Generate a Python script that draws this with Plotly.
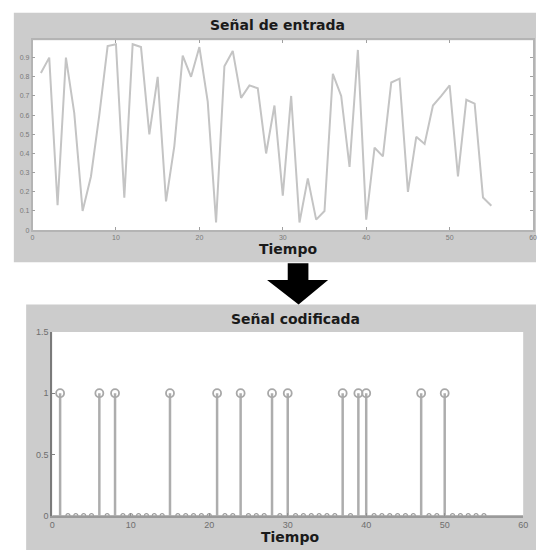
import plotly.graph_objects as go

# ---------------- data ----------------
tiempo = list(range(1, 56))
senal_entrada = [0.82, 0.90, 0.13, 0.90, 0.61, 0.10, 0.28, 0.60, 0.96, 0.97,
                 0.17, 0.97, 0.955, 0.50, 0.80, 0.15, 0.44, 0.91, 0.80, 0.955,
                 0.67, 0.04, 0.855, 0.935, 0.69, 0.755, 0.74, 0.40, 0.65, 0.18,
                 0.70, 0.04, 0.27, 0.055, 0.10, 0.815, 0.70, 0.33, 0.94, 0.055,
                 0.43, 0.385, 0.77, 0.79, 0.20, 0.487, 0.45, 0.65, 0.70, 0.755,
                 0.28, 0.68, 0.66, 0.17, 0.127]
unos = [1, 6, 8, 15, 21, 24, 28, 30, 37, 39, 40, 47, 50]
senal_codificada = [1 if t in unos else 0 for t in tiempo]

titulo_1 = "Señal de entrada"
titulo_2 = "Señal codificada"
eje_x = "Tiempo"
x_ticks = [0, 10, 20, 30, 40, 50, 60]
y_ticks_1 = [0, 0.1, 0.2, 0.3, 0.4, 0.5, 0.6, 0.7, 0.8, 0.9]
y_ticks_2 = [0, 0.5, 1, 1.5]

# ---------------- layout helpers ----------------
W, H = 541, 555
def px(x):
    return x / W
def py(y):
    return 1 - y / H

fig = go.Figure()

# top panel line
fig.add_trace(go.Scatter(x=tiempo, y=senal_entrada, mode="lines",
                         line=dict(color="#c4c4c4", width=2),
                         xaxis="x", yaxis="y", showlegend=False, hoverinfo="skip"))

# bottom panel stems
sx, sy = [], []
for t, v in zip(tiempo, senal_codificada):
    if v != 0:
        sx += [t, t, None]
        sy += [0, v, None]
fig.add_trace(go.Scatter(x=sx, y=sy, mode="lines",
                         line=dict(color="#adadad", width=2.5),
                         xaxis="x2", yaxis="y2", showlegend=False, hoverinfo="skip"))
# baseline
fig.add_trace(go.Scatter(x=[0, 60], y=[0, 0], mode="lines",
                         line=dict(color="#a0a0a0", width=1.5),
                         xaxis="x2", yaxis="y2", showlegend=False, hoverinfo="skip"))
# markers at zero
z_x = [t for t, v in zip(tiempo, senal_codificada) if v == 0]
z_y = [v for v in senal_codificada if v == 0]
fig.add_trace(go.Scatter(x=z_x, y=z_y, mode="markers",
                         marker=dict(symbol="circle-open", size=4, color="#9a9a9a",
                                     line=dict(width=1.2)),
                         xaxis="x2", yaxis="y2", showlegend=False, hoverinfo="skip"))
# markers at one
o_x = [t for t, v in zip(tiempo, senal_codificada) if v != 0]
o_y = [v for v in senal_codificada if v != 0]
fig.add_trace(go.Scatter(x=o_x, y=o_y, mode="markers",
                         marker=dict(symbol="circle-open", size=8, color="#a8a8a8",
                                     line=dict(width=1.8)),
                         xaxis="x2", yaxis="y2", showlegend=False, hoverinfo="skip"))

shapes = [
    # gray panels
    dict(type="rect", xref="paper", yref="paper", x0=px(11), x1=px(541), y0=py(262), y1=py(8),
         fillcolor="#cccccc", line=dict(width=0), layer="below"),
    dict(type="rect", xref="paper", yref="paper", x0=px(23.5), x1=px(541), y0=py(555), y1=py(305),
         fillcolor="#cccccc", line=dict(width=0), layer="below"),
    # white plot areas
    dict(type="rect", xref="paper", yref="paper", x0=px(30), x1=px(538), y0=py(229.3), y1=py(36),
         fillcolor="white", line=dict(width=0), layer="below"),
    dict(type="rect", xref="paper", yref="paper", x0=px(50), x1=px(528), y0=py(520), y1=py(333),
         fillcolor="white", line=dict(width=0), layer="below"),
]
# arrow
arrow_pts = [(289, 263), (310, 263), (310, 280), (330, 280), (300, 305), (268, 280), (289, 280)]
path = "M " + " L ".join(f"{px(a):.5f},{py(b):.5f}" for a, b in arrow_pts) + " Z"
shapes.append(dict(type="path", xref="paper", yref="paper", path=path,
                   fillcolor="black", line=dict(width=0), layer="above"))

tickfont_top = dict(family="Liberation Sans, Arial", size=7, color="#7a7a7a")
tickfont_bot = dict(family="Liberation Sans, Arial", size=9, color="#6e6e6e")
title_font = dict(family="DejaVu Sans", size=14, color="#1a1a1a")

annotations = [
    dict(text="<b>%s</b>" % titulo_1, x=px(279), y=py(20), xref="paper", yref="paper",
         showarrow=False, font=title_font, xanchor="center", yanchor="middle"),
    dict(text="<b>%s</b>" % eje_x, x=px(289), y=py(248), xref="paper", yref="paper",
         showarrow=False, font=title_font, xanchor="center", yanchor="middle"),
    dict(text="<b>%s</b>" % titulo_2, x=px(297), y=py(320), xref="paper", yref="paper",
         showarrow=False, font=title_font, xanchor="center", yanchor="middle"),
    dict(text="<b>%s</b>" % eje_x, x=px(291), y=py(542), xref="paper", yref="paper",
         showarrow=False, font=title_font, xanchor="center", yanchor="middle"),
]

fig.update_layout(
    width=W, height=H,
    margin=dict(l=0, r=0, t=0, b=0),
    paper_bgcolor="white",
    plot_bgcolor="rgba(0,0,0,0)",
    shapes=shapes,
    annotations=annotations,
    xaxis=dict(domain=[px(30), px(538)], range=[0, 60], tickvals=x_ticks,
               ticktext=[str(v) for v in x_ticks], ticks="inside", ticklen=3,
               tickcolor="#a0a0a0", showline=True, linecolor="#b4b4b4", linewidth=1.5,
               mirror="ticks", showgrid=False, zeroline=False, tickfont=tickfont_top,
               anchor="y"),
    yaxis=dict(domain=[py(229.3), py(36)], range=[0, 0.99], tickvals=y_ticks_1,
               ticktext=["0"] + [f"{v:.1f}" for v in y_ticks_1[1:]], ticks="inside",
               ticklen=3, tickcolor="#a0a0a0", showline=True, linecolor="#b4b4b4",
               linewidth=1.5, mirror="ticks", showgrid=False, zeroline=False,
               tickfont=tickfont_top, anchor="x"),
    xaxis2=dict(domain=[px(50), px(528)], range=[0, 60], tickvals=x_ticks,
                ticktext=[str(v) for v in x_ticks], ticks="inside", ticklen=3,
                tickcolor="#909090", showline=True, linecolor="#9a9a9a", linewidth=1.5,
                showgrid=False, zeroline=False, tickfont=tickfont_bot, anchor="y2"),
    yaxis2=dict(domain=[py(520), py(333)], range=[0, 1.5], tickvals=y_ticks_2,
                ticktext=["0", "0.5", "1", "1.5"], ticks="inside", ticklen=3,
                tickcolor="#808080", showline=True, linecolor="#7a7a7a", linewidth=2,
                showgrid=False, zeroline=False, tickfont=tickfont_bot, anchor="x2"),
)

fig.write_html("out.html")
